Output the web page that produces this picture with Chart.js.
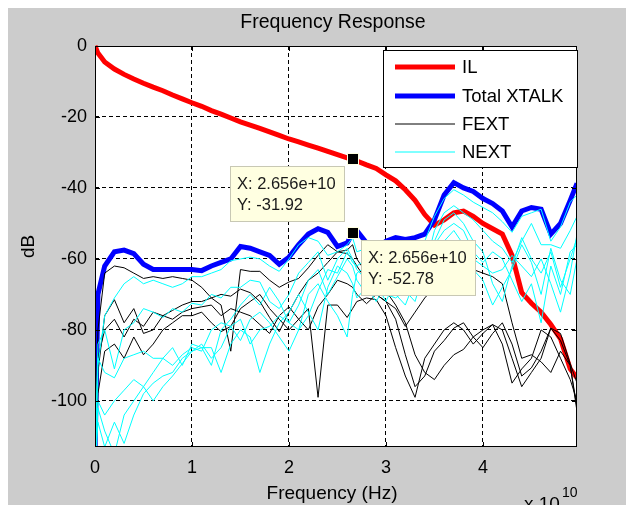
<!DOCTYPE html>
<html>
<head>
<meta charset="utf-8">
<title>Frequency Response</title>
<script src="https://cdn.jsdelivr.net/npm/chart.js@4.4.1/dist/chart.umd.min.js"></script>
<style>
  html, body { margin: 0; padding: 0; background: #fff; }
  canvas { display: block; }
</style>
</head>
<body>
<canvas id="fr" width="626" height="505"></canvas>
<script>
// frequency points in units of 1e10 Hz (axis shows "x 10^10")
const freq = [0, 0.03, 0.1, 0.2, 0.3, 0.4, 0.5, 0.6, 0.7, 0.8, 0.9, 1.0, 1.1, 1.2, 1.3, 1.4, 1.5, 1.6, 1.7, 1.8, 1.9, 2.0,
    2.1, 2.2, 2.3, 2.4, 2.5, 2.6, 2.656, 2.7, 2.8, 2.9, 3.0, 3.1, 3.2, 3.3, 3.4, 3.5, 3.6, 3.7, 3.8, 3.9, 4.0,
    4.1, 4.2, 4.3, 4.4, 4.5, 4.6, 4.7, 4.8, 4.9, 4.97];

// insertion loss
const ilDb = [0, -2, -4.5, -6.5, -8, -9.3, -10.5, -11.6, -12.6, -13.8, -14.9, -16, -17, -18.2, -19.2, -20.3, -21.4, -22.3,
    -23.2, -24.2, -25.2, -26.2, -27, -27.9, -28.8, -29.7, -30.6, -31.5, -31.92, -32.4, -33.5, -34.5, -36.3, -38, -40.5,
    -43.5, -47.5, -50.5, -49, -47, -46.5, -48, -50, -51.5, -53, -59, -69.5, -72.5, -75, -78.5, -82.5, -91, -93.5];

// power sum of all aggressors
const xtalkDb = [-115, -70, -62, -58, -57.5, -58.5, -61.5, -63, -63, -63, -63, -63, -63.3, -62, -61, -60, -56.5, -57,
    -58, -59, -61.5, -59.5, -56, -53, -51.5, -52.5, -56.5, -55.5, -52.78, -52, -55.5, -57, -55, -54, -54.5, -54, -53,
    -49, -42, -38.5, -40, -41, -43, -44.4, -46.5, -51, -46.5, -45.5, -46, -53, -50, -43.5, -38.7];

// far end aggressors
const fext1 = [-120, -80, -64, -62, -62.5, -64, -65.5, -65, -65.5, -65, -65.5, -66, -68, -71, -73, -86, -63, -63.5, -63.5,
    -66, -68, -66.5, -65.5, -62.5, -59, -56, -58, -58.5, -60, -62, -66, -70, -72, -74, -79, -75, -71, -68, -66, -65, -64,
    -63, -64, -65, -67, -78, -88, -87, -89, -92, -86, -90, -103];
const fext2 = [-120, -92, -76, -71.5, -78, -74, -81, -80, -76, -77, -75, -74, -73.5, -73, -76, -74, -75, -76, -78.5, -81,
    -76, -73.5, -77, -74, -99, -73, -73, -76.5, -74, -72, -71, -71.5, -76, -85, -93, -99, -88, -84, -80, -78, -80, -84,
    -81, -78.5, -84, -95, -91, -88, -80, -82, -88, -94, -100];
const fext3 = [-120, -98, -86, -84, -88, -82, -87, -84, -80, -78, -76, -76, -75, -78, -80.5, -79, -74, -72, -70, -74, -77,
    -80, -77, -80, -73.5, -70, -66, -67, -68, -70, -72.6, -70, -72, -77, -87, -96, -93, -86, -83, -79.5, -78, -82, -85,
    -81, -78, -84, -93, -90.7, -86, -79.5, -81, -89.5, -95];
const fext4 = [-120, -88, -80, -77, -82, -77, -79, -75, -76, -74.5, -73, -72, -72, -71, -70, -70.5, -68.5, -69.5, -72,
    -76.5, -80.5, -75, -70, -66, -64, -61, -58, -57.5, -56, -60, -64, -66.5, -69, -73, -78, -87, -92, -94, -90, -87,
    -85.5, -82, -80, -78.5, -80, -88, -96, -92, -88, -79.5, -83, -90, -102];

// near end aggressors
const next1 = [-120, -90, -76, -71, -67, -65, -67, -66, -67, -68, -67, -65, -65, -64, -63, -60.5, -60, -59.5, -60, -62,
    -63.5, -60, -56, -54, -55, -59, -58, -56, -54, -58, -57, -60, -59, -58, -56, -57, -55, -48, -43, -40.5, -42, -44,
    -45.5, -47, -49.5, -52.5, -48, -47, -46, -55, -51, -44, -42];
const next2 = [-120, -84, -80, -91, -80, -78, -74, -75, -76.5, -74, -75, -72.5, -73, -70, -71, -68, -68, -66, -66.5, -72,
    -74, -70, -64, -61, -58, -66, -60, -57, -60, -63, -66, -62, -70, -71, -69, -72, -63, -52, -47, -45, -47, -49, -52,
    -55, -57, -61, -55, -50, -56, -56, -57, -52, -48];
const next3 = [-120, -88, -92, -93.5, -88, -87, -86, -88, -88, -85, -90, -84, -85, -90, -80, -77, -73, -70, -73, -68,
    -72, -78, -73, -66, -63, -70, -65, -60, -62, -66, -70, -67, -72, -66, -63, -68, -60, -55, -49, -47, -50, -55, -58,
    -67, -72, -62, -54, -60, -64, -58, -68, -60, -54];
const next4 = [-120, -100, -104, -100, -97, -94, -96, -100, -96, -93, -89.5, -86, -85, -85, -92, -84, -80, -82, -92,
    -84, -78, -75, -70, -75, -80, -68, -62, -64, -67, -71, -68, -72, -67, -70, -73, -66, -63, -58, -55, -52, -56, -63,
    -66, -73, -68, -63, -56, -61, -70, -57, -66, -70, -60];
const next5 = [-120, -102, -108.5, -115, -104, -100, -96, -92, -88, -90, -87, -85, -86, -80, -78, -79, -83, -77, -75,
    -78, -82, -86, -80, -70, -67, -72, -76, -82, -70, -64, -62, -65, -63, -61, -64, -62, -58, -56, -52, -50, -52, -58,
    -61, -58, -60, -66, -72, -67, -78, -62, -70, -58, -56];
const next6 = [-120, -106, -113, -106, -112, -104, -98, -95, -93, -92, -88, -86, -84, -88, -85, -79, -77, -84, -80, -79,
    -76, -78, -80, -76, -69, -63, -64, -58, -61, -62, -60, -64, -66, -65, -60, -61, -58, -62, -59, -57, -58, -60, -62,
    -64, -63, -59, -62, -65, -60, -67, -75, -64, -53];

const xTicks = [0, 1, 2, 3, 4];
const yTicks = [0, -20, -40, -60, -80, -100];

// frequency where both data cursors sit
const tipFreq = 2.656;

const FONT = "'Liberation Sans', Arial, sans-serif";

const series = [
    { label: 'IL', data: ilDb, color: '#ff0000', width: 5, order: 4, legend: true },
    { label: 'Total XTALK', data: xtalkDb, color: '#0000ff', width: 5, order: 3, legend: true },
    { label: 'FEXT', data: fext1, color: '#000000', width: 1, order: 2, legend: true },
    { label: 'FEXT', data: fext2, color: '#000000', width: 1, order: 2 },
    { label: 'FEXT', data: fext3, color: '#000000', width: 1, order: 2 },
    { label: 'FEXT', data: fext4, color: '#000000', width: 1, order: 2 },
    { label: 'NEXT', data: next1, color: '#00ffff', width: 1, order: 1, legend: true },
    { label: 'NEXT', data: next2, color: '#00ffff', width: 1, order: 1 },
    { label: 'NEXT', data: next3, color: '#00ffff', width: 1, order: 1 },
    { label: 'NEXT', data: next4, color: '#00ffff', width: 1, order: 1 },
    { label: 'NEXT', data: next5, color: '#00ffff', width: 1, order: 1 },
    { label: 'NEXT', data: next6, color: '#00ffff', width: 1, order: 1 }
];

const datasets = series.map(s => ({
    label: s.label,
    data: freq.map((f, i) => ({ x: f, y: s.data[i] })),
    borderColor: s.color,
    borderWidth: s.width,
    order: s.order,
    clip: s.label === 'IL' ? { left: 0, top: 3, right: 0, bottom: 0 } : 0,
    pointRadius: 0,
    tension: 0
}));

function line(ctx, x1, y1, x2, y2) {
    ctx.beginPath(); ctx.moveTo(x1, y1); ctx.lineTo(x2, y2); ctx.stroke();
}

// figure background, axes frame, legend, data cursors and labels
const figure = {
    id: 'figure',
    beforeDraw(chart) {
        const { ctx, chartArea: a } = chart;
        ctx.save();
        ctx.fillStyle = '#ffffff';
        ctx.fillRect(0, 0, chart.width, chart.height);
        ctx.fillStyle = '#cccccc';
        ctx.fillRect(8, 8, chart.width - 8, chart.height - 8);
        ctx.fillStyle = '#ffffff';
        ctx.fillRect(a.left, a.top, a.right - a.left, a.bottom - a.top);
        ctx.restore();
    },
    afterDatasetsDraw(chart) {
        const { ctx, chartArea: a, scales: { x, y } } = chart;
        ctx.save();

        // inward tick marks on all four sides + solid box
        ctx.strokeStyle = '#000'; ctx.lineWidth = 1;
        x.ticks.forEach(t => {
            const px = Math.round(x.getPixelForValue(t.value)) + 0.5;
            line(ctx, px, a.bottom, px, a.bottom - 5);
            line(ctx, px, a.top, px, a.top + 5);
        });
        y.ticks.forEach(t => {
            const py = Math.round(y.getPixelForValue(t.value)) + 0.5;
            line(ctx, a.left, py, a.left + 5, py);
            line(ctx, a.right, py, a.right - 5, py);
        });
        ctx.strokeRect(a.left + 0.5, a.top + 0.5, a.right - a.left - 1, a.bottom - a.top - 1);

        // legend box, top right inside the axes
        const lg = { x: a.right - 194, y: a.top + 4, w: 195, h: 118 };
        ctx.fillStyle = '#fff';
        ctx.fillRect(lg.x, lg.y, lg.w, lg.h);
        ctx.strokeStyle = '#000';
        ctx.strokeRect(lg.x + 0.5, lg.y + 0.5, lg.w - 1, lg.h - 1);
        ctx.font = '18.5px ' + FONT;
        ctx.textBaseline = 'middle';
        const rows = [17, 46, 74, 102];
        series.filter(s => s.legend).forEach((s, i) => {
            const ry = lg.y + rows[i];
            ctx.strokeStyle = s.color; ctx.lineWidth = s.width;
            line(ctx, lg.x + 12, ry, lg.x + 72, ry);
            ctx.fillStyle = '#000';
            ctx.fillText(s.label, lg.x + 79, ry + 1);
        });

        // data cursors on IL and Total XTALK
        const ti = freq.indexOf(tipFreq);
        const tips = [{ vals: ilDb, side: -1 }, { vals: xtalkDb, side: 1 }];
        ctx.font = '16.5px ' + FONT;
        tips.forEach(tp => {
            const px = Math.round(x.getPixelForValue(freq[ti]));
            const py = Math.round(y.getPixelForValue(tp.vals[ti]));
            const l1 = 'X: ' + (freq[ti] * 1e10).toExponential(3);
            const l2 = 'Y: ' + tp.vals[ti].toFixed(2);
            const w = Math.ceil(Math.max(ctx.measureText(l1).width, ctx.measureText(l2).width)) + 16;
            const h = 56;
            const bx = tp.side < 0 ? px - 8 - w : px + 8;
            const by = py + 7;
            ctx.fillStyle = '#ffffe1';
            ctx.fillRect(bx, by, w, h);
            ctx.strokeStyle = '#c8c8b4'; ctx.lineWidth = 1;
            ctx.strokeRect(bx + 0.5, by + 0.5, w - 1, h - 1);
            ctx.fillStyle = '#1a1a1a';
            ctx.textBaseline = 'middle';
            ctx.fillText(l1, bx + 7, by + 18);
            ctx.fillText(l2, bx + 7, by + 39);
            // marker square
            ctx.fillStyle = '#ffffe1';
            ctx.fillRect(px - 6, py - 6, 12, 12);
            ctx.fillStyle = '#000';
            ctx.fillRect(px - 5, py - 5, 10, 10);
        });
        ctx.restore();
    },
    afterDraw(chart) {
        const { ctx, chartArea: a } = chart;
        const cx = (a.left + a.right) / 2;
        ctx.save();
        ctx.fillStyle = '#000';
        ctx.textAlign = 'center';
        ctx.textBaseline = 'middle';
        ctx.font = '19.5px ' + FONT;
        ctx.fillText('Frequency Response', cx - 3, 23);

        ctx.font = '19px ' + FONT;
        ctx.textBaseline = 'alphabetic';
        ctx.fillText('Frequency (Hz)', cx - 4, 499);

        // exponent label, partly below the figure edge
        ctx.textAlign = 'left';
        ctx.fillText('x 10', 524, 510);
        ctx.font = '14px ' + FONT;
        ctx.fillText('10', 562, 497);

        ctx.translate(29, (a.top + a.bottom) / 2);
        ctx.rotate(-Math.PI / 2);
        ctx.textAlign = 'center';
        ctx.textBaseline = 'middle';
        ctx.font = '19px ' + FONT;
        ctx.fillText('dB', 0, 0);
        ctx.restore();
    }
};

const tickFont = { family: FONT, size: 18 };

new Chart(document.getElementById('fr'), {
    type: 'line',
    data: { datasets },
    options: {
        responsive: false, animation: false, devicePixelRatio: 1,
        layout: { padding: { left: 35, top: 46, right: 49, bottom: 0 } },
        plugins: { legend: { display: false }, tooltip: { enabled: false }, title: { display: false } },
        scales: {
            x: {
                type: 'linear', min: 0, max: 4.97,
                afterBuildTicks: s => { s.ticks = xTicks.map(v => ({ value: v })); },
                afterFit: s => { s.height = 58; },
                grid: { color: '#000', lineWidth: 1, drawTicks: false },
                border: { display: false, dash: [4, 3] },
                ticks: { autoSkip: false, maxRotation: 0, padding: 10, color: '#000', font: tickFont }
            },
            y: {
                type: 'linear', min: -113, max: 0,
                afterBuildTicks: s => { s.ticks = yTicks.map(v => ({ value: v })); },
                afterFit: s => { s.width = 60; },
                grid: { color: '#000', lineWidth: 1, drawTicks: false },
                border: { display: false, dash: [4, 3] },
                ticks: { autoSkip: false, padding: 8, color: '#000', font: tickFont }
            }
        }
    },
    plugins: [figure]
});
</script>
</body>
</html>
